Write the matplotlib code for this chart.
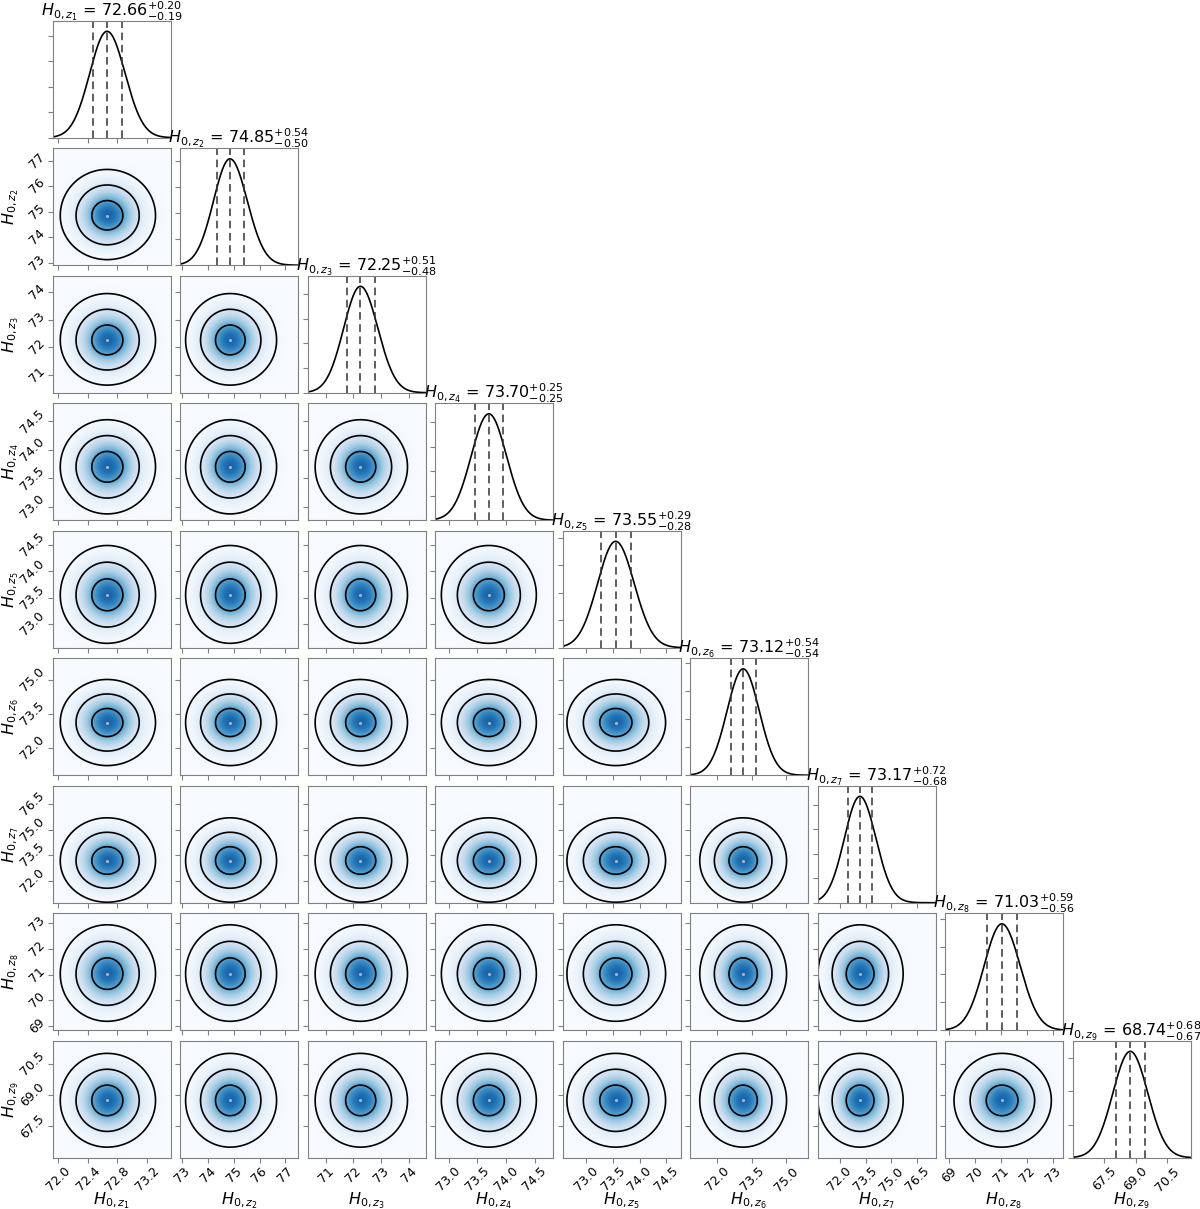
import numpy as np
import matplotlib
matplotlib.use("Agg")
import matplotlib.pyplot as plt

# -----------------------------
# Data
# -----------------------------
names = ["z_1", "z_2", "z_3", "z_4", "z_5", "z_6", "z_7", "z_8", "z_9"]
medians = [72.66, 74.85, 72.25, 73.70, 73.55, 73.12, 73.17, 71.03, 68.74]
err_up = [0.20, 0.54, 0.51, 0.25, 0.29, 0.54, 0.72, 0.59, 0.68]
err_lo = [0.19, 0.50, 0.48, 0.25, 0.28, 0.54, 0.68, 0.56, 0.67]
ranges = [(71.92, 73.52), (72.91, 77.49), (70.34, 74.60), (72.76, 74.82),
          (72.55, 74.77), (70.81, 75.94), (70.70, 77.58), (68.83, 73.40),
          (66.00, 71.60)]
tick_labels = [["72.0", "72.4", "72.8", "73.2"],
               ["73", "74", "75", "76", "77"],
               ["71", "72", "73", "74"],
               ["73.0", "73.5", "74.0", "74.5"],
               ["73.0", "73.5", "74.0", "74.5"],
               ["72.0", "73.5", "75.0"],
               ["72.0", "73.5", "75.0", "76.5"],
               ["69", "70", "71", "72", "73"],
               ["67.5", "69.0", "70.5"]]
contour_radii = [0.88, 1.79, 2.7]  # contour levels in smoothed-sigma units
smooth_frac = 0.0865               # kde smoothing, as a fraction of the plot range

n = len(names)
SPINE = "#808080"


def norm_dist(x, i):
    # split-normal distance from the median, in smoothed sigma units
    s = smooth_frac * (ranges[i][1] - ranges[i][0])
    up = np.sqrt(err_up[i] ** 2 + s ** 2)
    lo = np.sqrt(err_lo[i] ** 2 + s ** 2)
    sig = np.where(x > medians[i], up, lo)
    return (x - medians[i]) / sig


# -----------------------------
# Figure layout
# -----------------------------
fig = plt.figure(figsize=(12, 12.09), dpi=100)
gs = fig.add_gridspec(n, n, left=0.04375, right=0.9921, top=0.9829,
                      bottom=0.0424, wspace=0.0805, hspace=0.0897)

for row in range(n):
    for col in range(row + 1):
        ax = fig.add_subplot(gs[row, col])
        xlo, xhi = ranges[col]
        xt = [float(t) for t in tick_labels[col]]

        if row == col:
            # marginal
            x = np.linspace(xlo, xhi, 400)
            pdf = np.exp(-0.5 * norm_dist(x, col) ** 2)
            pdf = pdf / np.trapezoid(pdf, x)
            ax.plot(x, pdf, color="black", lw=1.2)
            for v in [medians[col] - err_lo[col], medians[col], medians[col] + err_up[col]]:
                ax.axvline(v, color="#333333", ls=(0, (5, 3)), lw=1.1)
            ax.set_ylim(0, pdf.max() * 1.1)
            ax.yaxis.set_major_locator(matplotlib.ticker.MaxNLocator(5))
            ax.set_yticklabels([])
            title = (r"$H_{0,%s}$ = $%.2f^{+%.2f}_{-%.2f}$"
                     % (names[col], medians[col], err_up[col], err_lo[col]))
            ax.text(0.5, 1.04, title, fontsize=11.5, ha="center",
                    va="baseline", transform=ax.transAxes)
        else:
            ylo, yhi = ranges[row]
            gx = np.linspace(xlo, xhi, 300)
            gy = np.linspace(ylo, yhi, 300)
            X, Y = np.meshgrid(gx, gy)
            R = np.sqrt(norm_dist(X, col) ** 2 + norm_dist(Y, row) ** 2)
            shade = 0.8 * np.exp(-R ** 2 / (2 * 0.975 ** 2))
            ax.imshow(shade, extent=(xlo, xhi, ylo, yhi), origin="lower",
                      cmap="Blues", vmin=0, vmax=1, aspect="auto",
                      interpolation="bilinear")
            ax.contour(X, Y, R, levels=contour_radii, colors="black",
                       linewidths=1.2)
            ax.plot(medians[col], medians[row], ".", color="#a8b4c4", ms=2.5)
            ax.set_ylim(ylo, yhi)
            yt = [float(t) for t in tick_labels[row]]
            ax.set_yticks(yt)
            if col == 0:
                ax.set_yticklabels(tick_labels[row], rotation=45, fontsize=9,
                                   va="center")
                ax.tick_params(axis="y", pad=0.5)
                ax.set_ylabel(r"$H_{0,%s}$" % names[row], fontsize=11.5)
                ax.yaxis.set_label_coords(-0.27, 0.5)
            else:
                ax.set_yticklabels([])

        ax.set_xlim(xlo, xhi)
        ax.set_xticks(xt)
        if row == n - 1:
            ax.set_xticklabels(tick_labels[col], rotation=45, fontsize=9)
            ax.tick_params(axis="x", pad=1.5)
            ax.set_xlabel(r"$H_{0,%s}$" % names[col], fontsize=11.5)
            ax.xaxis.set_label_coords(0.5, -0.28)
        else:
            ax.set_xticklabels([])

        for sp in ax.spines.values():
            sp.set_color(SPINE)
        ax.tick_params(colors=SPINE, labelcolor="black", length=3.5)

plt.savefig("out.png", dpi=100)
plt.close()
